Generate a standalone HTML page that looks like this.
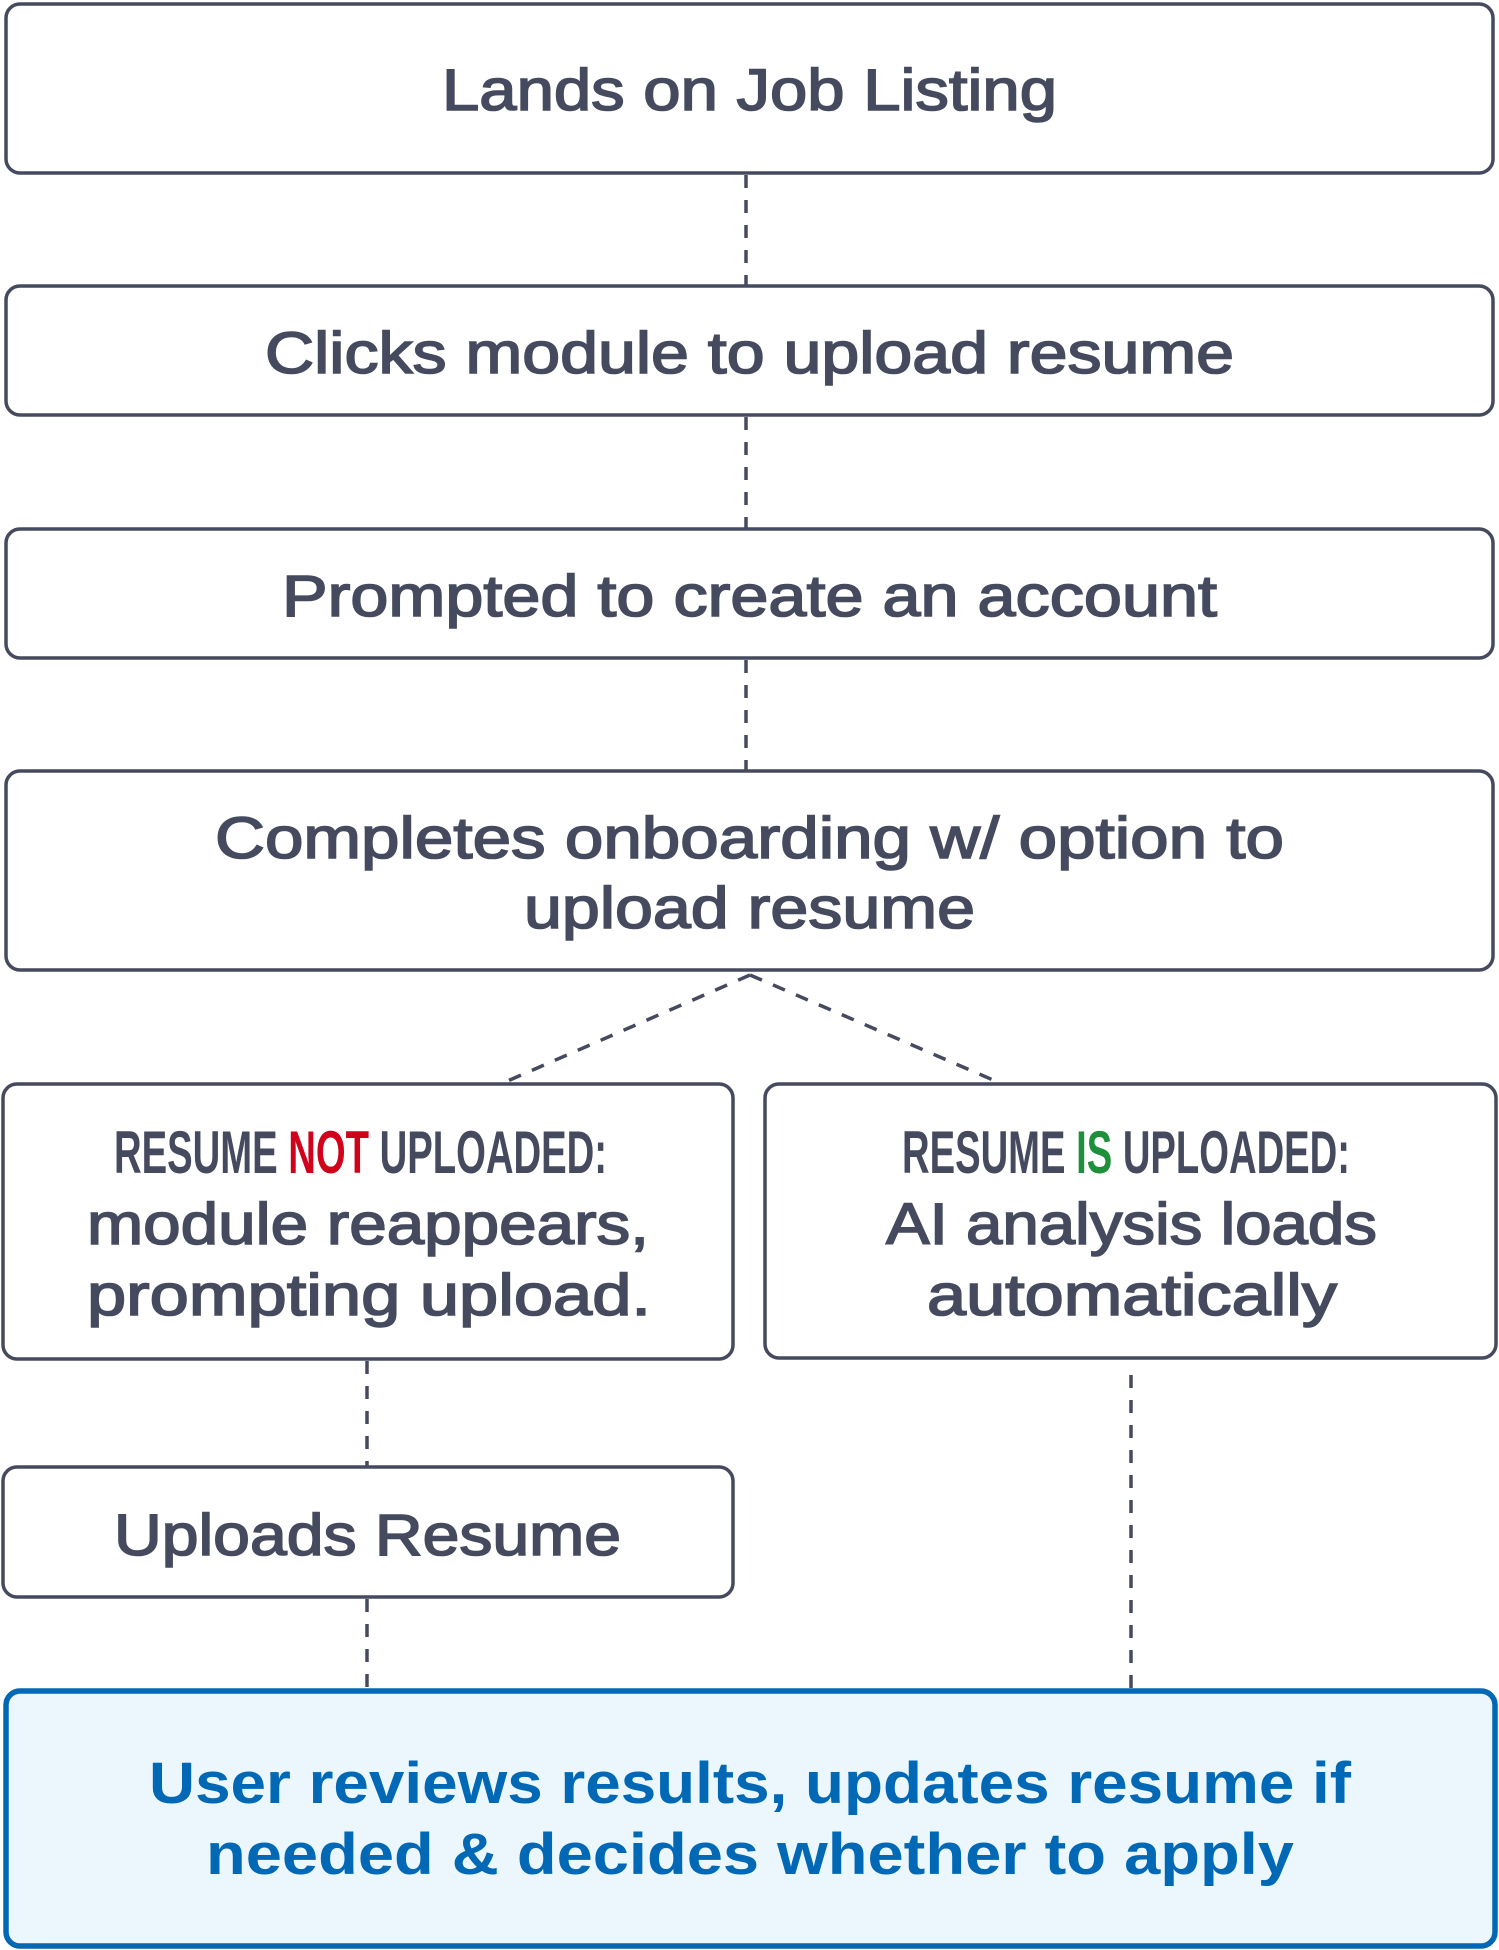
<!DOCTYPE html>
<html><head><meta charset="utf-8"><style>html,body{margin:0;padding:0;background:#fff}svg{display:block}</style></head>
<body>
<svg width="1499" height="1950" viewBox="0 0 1499 1950" xmlns="http://www.w3.org/2000/svg">
<g fill="#fff" stroke="#454a5e" stroke-width="3.5">
<rect x="6" y="4" width="1487" height="169" rx="14"/>
<rect x="6" y="286" width="1487" height="129" rx="14"/>
<rect x="6" y="529" width="1487" height="129" rx="14"/>
<rect x="6" y="771" width="1487" height="199" rx="14"/>
<rect x="3" y="1084" width="730" height="275" rx="14"/>
<rect x="765" y="1084" width="731" height="274" rx="14"/>
<rect x="3" y="1467" width="730" height="130" rx="14"/>
</g>
<rect x="6" y="1691" width="1489" height="255" rx="14" fill="#ebf7fd" stroke="#0068b5" stroke-width="5.5"/>
<g stroke="#454a5e" stroke-width="3.5" stroke-dasharray="13,12" fill="none">
<line x1="746" y1="175" x2="746" y2="286"/>
<line x1="746" y1="417" x2="746" y2="529"/>
<line x1="746" y1="660" x2="746" y2="771"/>
<line x1="750" y1="975" x2="503" y2="1083"/>
<line x1="750" y1="975" x2="1000" y2="1083"/>
<line x1="367" y1="1361" x2="367" y2="1467"/>
<line x1="367" y1="1599" x2="367" y2="1689"/>
<line x1="1131" y1="1375" x2="1131" y2="1689"/>
</g>
<g font-family="Liberation Sans, sans-serif" font-size="58" fill="#454a5e" stroke="#454a5e" stroke-width="1.6">
<text x="442" y="110" textLength="615" lengthAdjust="spacingAndGlyphs">Lands on Job Listing</text>
<text x="265" y="373" textLength="969" lengthAdjust="spacingAndGlyphs">Clicks module to upload resume</text>
<text x="282" y="616" textLength="935" lengthAdjust="spacingAndGlyphs">Prompted to create an account</text>
<text x="215" y="858" textLength="1069" lengthAdjust="spacingAndGlyphs">Completes onboarding w/ option to</text>
<text x="524" y="928" textLength="451" lengthAdjust="spacingAndGlyphs">upload resume</text>
<text x="87" y="1244" textLength="562" lengthAdjust="spacingAndGlyphs">module reappears,</text>
<text x="87" y="1315" textLength="564" lengthAdjust="spacingAndGlyphs">prompting upload.</text>
<text x="886" y="1244" textLength="491" lengthAdjust="spacingAndGlyphs">AI analysis loads</text>
<text x="927" y="1315" textLength="410" lengthAdjust="spacingAndGlyphs">automatically</text>
<text x="114" y="1555" textLength="507" lengthAdjust="spacingAndGlyphs">Uploads Resume</text>
</g>
<g font-family="Liberation Sans, sans-serif" font-size="58" fill="#0068b5" font-weight="bold">
<text x="149" y="1803" textLength="1202" lengthAdjust="spacingAndGlyphs">User reviews results, updates resume if</text>
<text x="206" y="1874" textLength="1088" lengthAdjust="spacingAndGlyphs">needed &amp; decides whether to apply</text>
</g>
<g font-family="Liberation Sans Narrow, Liberation Sans, sans-serif" font-size="60" fill="#454a5e" font-weight="bold">
<text x="114" y="1173" textLength="493" lengthAdjust="spacingAndGlyphs">RESUME <tspan fill="#d0021b">NOT</tspan> UPLOADED:</text>
<text x="902" y="1173" textLength="448" lengthAdjust="spacingAndGlyphs">RESUME <tspan fill="#1e8f3a">IS</tspan> UPLOADED:</text>
</g>
</svg>
</body></html>
